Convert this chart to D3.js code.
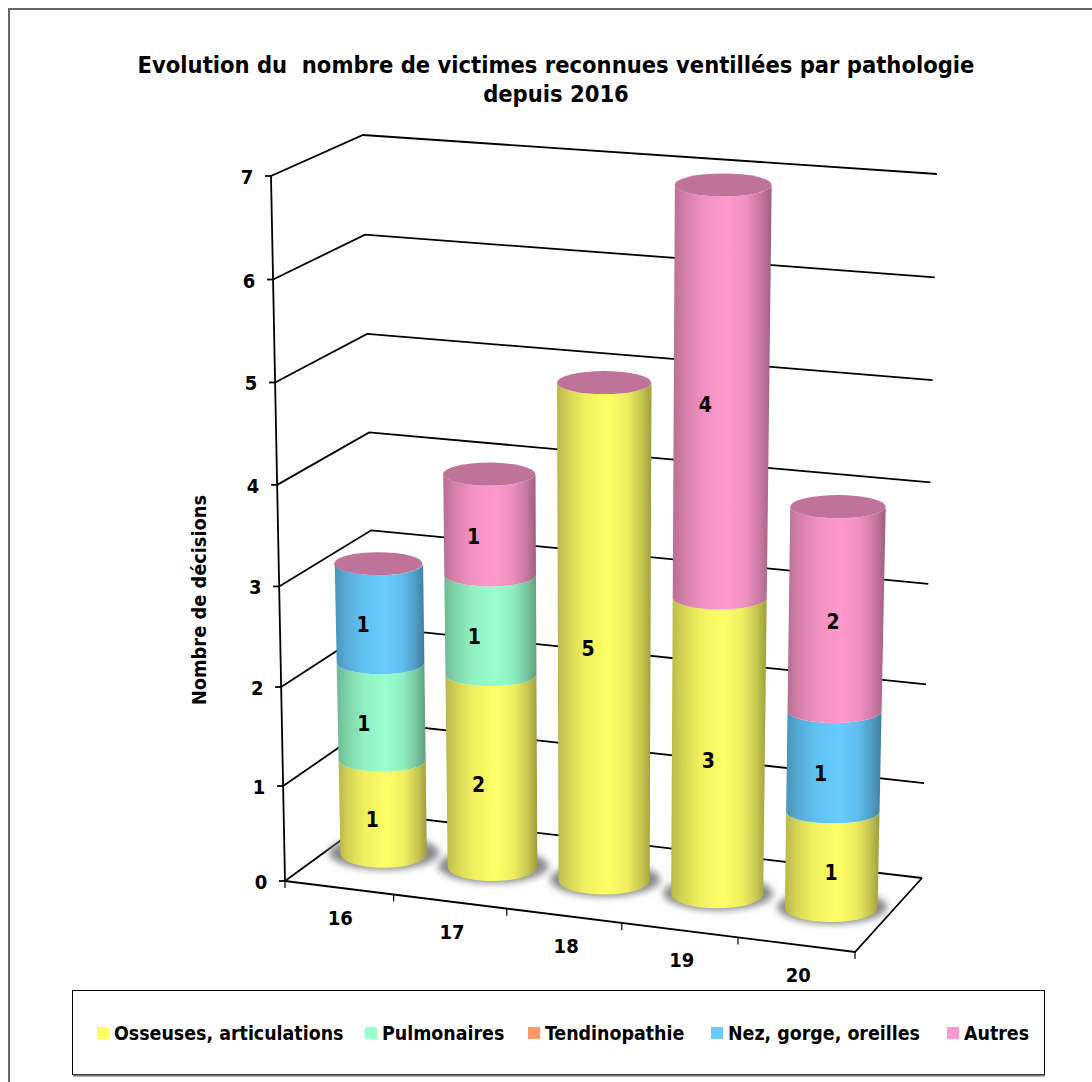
<!DOCTYPE html>
<html>
<head>
<meta charset="utf-8">
<script src="https://cdn.jsdelivr.net/npm/d3@7"></script>
<style>
  html, body { margin: 0; padding: 0; background: #fff; }
  svg { display: block; }
  text { font-family: "DejaVu Sans Condensed", "DejaVu Sans", sans-serif; font-weight: bold; fill: #000; }
</style>
</head>
<body>
<div id="chart"></div>
<script>
// data
var categories = ["16", "17", "18", "19", "20"];
var seriesNames = ["Osseuses, articulations", "Pulmonaires", "Tendinopathie", "Nez, gorge, oreilles", "Autres"];
var osseuses = [1, 2, 5, 3, 1];
var pulmonaires = [1, 1, 0, 0, 0];
var tendinopathie = [0, 0, 0, 0, 0];
var nez = [1, 0, 0, 0, 1];
var autres = [0, 1, 0, 4, 2];
var valueTicks = [0, 1, 2, 3, 4, 5, 6, 7];
var titleLines = ["Evolution du  nombre de victimes reconnues ventillées par pathologie", "depuis 2016"];
var yTitle = "Nombre de décisions";

var colors = ["#FFFF66", "#99FFCC", "#FF9966", "#66CCFF", "#FF99CC"];
var capColor = "#BF7399";

var width = 1092, height = 1082;

var svg = d3.select("#chart").append("svg")
  .attr("width", width)
  .attr("height", height);

var defs = svg.append("defs");

// corners of the 3D box, [x, y] on screen
var floorFL = [285, 881], floorFR = [855, 952], floorBL = [377, 814], floorBR = [922, 878];
var topFL = [271, 176], topFR = [870, 222], topBL = [363, 135], topBR = [937, 174];

// scales: category -> position along the box, value -> height in the box
// the small exponents stand in for the perspective of the original
var xBand = d3.scaleBand().domain(categories).range([0, 1]);
var xPow = d3.scalePow().exponent(1.03).domain([0, 1]).range([0, 1]);
var yPow = d3.scalePow().exponent(1.03).domain([0, 7]).range([0, 1]);

function mix(a, b, t) {
  return [a[0] + (b[0] - a[0]) * t, a[1] + (b[1] - a[1]) * t];
}

// u: left to right (0-1), w: front to back (0-1), v: value
function project(u, w, v) {
  var t = yPow(v), s = xPow(u);
  var floorPt = mix(mix(floorFL, floorFR, s), mix(floorBL, floorBR, s), w);
  var topPt = mix(mix(topFL, topFR, s), mix(topBL, topBR, s), w);
  return mix(floorPt, topPt, t);
}

var line = d3.line();

// frame, open on the right and at the bottom
svg.append("path")
  .attr("d", "M9,1082V9H1092")
  .attr("fill", "none")
  .attr("stroke", "#666")
  .attr("stroke-width", 2);

// title
svg.append("g").selectAll("text")
  .data(titleLines)
  .enter()
  .append("text")
    .attr("x", 556)
    .attr("y", function(d, i) { return 73 + i * 29; })
    .attr("text-anchor", "middle")
    .style("font-size", "23.5px")
    .style("white-space", "pre")
    .attr("xml:space", "preserve")
    .text(function(d) { return d; });

// walls and gridlines
var wall = svg.append("g").attr("fill", "none").attr("stroke", "#000").attr("stroke-width", 1.8);

wall.selectAll("path.grid")
  .data(valueTicks)
  .enter()
  .append("path")
    .attr("class", "grid")
    .attr("d", function(v) {
      return line([project(0, 0, v), project(0, 1, v), project(1, 1, v)]);
    });

wall.append("path").attr("d", line([project(0, 0, 0), project(0, 0, 7)]));
wall.append("path").attr("d", line([project(0, 0, 0), project(1, 0, 0), project(1, 1, 0)]));

// y ticks
wall.selectAll("path.ytick")
  .data(valueTicks)
  .enter()
  .append("path")
    .attr("class", "ytick")
    .attr("d", function(v) {
      var p = project(0, 0, v);
      return line([[p[0] - 6, p[1]], p]);
    });

// x ticks, one at each band edge
wall.selectAll("path.xtick")
  .data(d3.range(0, 6))
  .enter()
  .append("path")
    .attr("class", "xtick")
    .attr("stroke-width", 1.2)
    .attr("d", function(i) {
      var p = project(i / 5, 0, 0);
      return line([p, [p[0], p[1] + 7]]);
    });

// y labels
svg.append("g").selectAll("text")
  .data(valueTicks)
  .enter()
  .append("text")
    .attr("x", function(v) { return project(0, 0, v)[0] - 24; })
    .attr("y", function(v) { return project(0, 0, v)[1] + 8; })
    .attr("text-anchor", "middle")
    .style("font-size", "20px")
    .text(function(v) { return v; });

// x labels
svg.append("g").selectAll("text")
  .data(categories)
  .enter()
  .append("text")
    .attr("x", function(c) { return project(xBand(c) + xBand.bandwidth() / 2, 0, 0)[0] + 2; })
    .attr("y", function(c) { return project(xBand(c) + xBand.bandwidth() / 2, 0, 0)[1] + 37; })
    .attr("text-anchor", "middle")
    .style("font-size", "20px")
    .text(function(c) { return c; });

// y title
svg.append("text")
  .attr("transform", "translate(206,600)rotate(-90)")
  .attr("text-anchor", "middle")
  .style("font-size", "19.8px")
  .text(yTitle);

// shading of the cylinders
colors.forEach(function(c, i) {
  var g = defs.append("linearGradient").attr("id", "cyl" + i);
  [[0, 0.72], [0.12, 0.83], [0.3, 0.94], [0.55, 1], [0.75, 0.93], [0.9, 0.77], [1, 0.62]].forEach(function(s) {
    var base = d3.rgb(c);
    var col = d3.rgb(base.r * s[1], base.g * s[1], base.b * s[1]);
    g.append("stop").attr("offset", s[0]).attr("stop-color", col);
  });
});

defs.append("filter")
  .attr("id", "blur")
  .attr("x", "-30%").attr("y", "-50%").attr("width", "160%").attr("height", "200%")
  .append("feGaussianBlur").attr("stdDeviation", 3.5);

// stack the series
var table = categories.map(function(c, i) {
  return { cat: c, s0: osseuses[i], s1: pulmonaires[i], s2: tendinopathie[i], s3: nez[i], s4: autres[i] };
});
var stack = d3.stack().keys(["s0", "s1", "s2", "s3", "s4"])(table);

var barShare = 0.81;  // width of a cylinder in its band
var depthMid = 0.5;

// left, right and middle of a cylinder at height v, kept level
function edges(c, v) {
  var u = xBand(c) + xBand.bandwidth() / 2;
  var half = xBand.bandwidth() * barShare / 2;
  var m = project(u, depthMid, v);
  return {
    l: [project(u - half, depthMid, v)[0], m[1]],
    r: [project(u + half, depthMid, v)[0], m[1]],
    m: m
  };
}

function ry(v) { return v === 0 ? 14 : 11.5; }

function segmentPath(c, v0, v1) {
  var a = edges(c, v0), b = edges(c, v1);
  var rxA = (a.r[0] - a.l[0]) / 2, rxB = (b.r[0] - b.l[0]) / 2;
  return "M" + b.l + "L" + a.l +
    "A" + rxA + "," + ry(v0) + " 0 0 0 " + a.r +
    "L" + b.r +
    "A" + rxB + "," + ry(v1) + " 0 0 1 " + b.l + "Z";
}

var bars = svg.append("g");

// shadows on the floor
bars.selectAll("ellipse.shadow")
  .data(categories)
  .enter()
  .append("ellipse")
    .attr("class", "shadow")
    .attr("cx", function(c) { return edges(c, 0).m[0] + 1; })
    .attr("cy", function(c) { return edges(c, 0).m[1] - 1; })
    .attr("rx", 55)
    .attr("ry", 17)
    .attr("fill", "#8a8a8a")
    .attr("filter", "url(#blur)");

categories.forEach(function(c, ci) {
  var g = bars.append("g");
  var topV = 0;
  stack.forEach(function(layer, si) {
    var d = layer[ci];
    if (d[1] === d[0]) return;
    topV = d[1];
    g.append("path")
      .attr("d", segmentPath(c, d[0], d[1]))
      .attr("fill", "url(#cyl" + si + ")");
  });
  var e = edges(c, topV);
  g.append("ellipse")
    .attr("cx", e.m[0])
    .attr("cy", e.m[1])
    .attr("rx", (e.r[0] - e.l[0]) / 2)
    .attr("ry", ry(topV))
    .attr("fill", capColor);
});

// value labels, nudged left of centre like in the original
var labelNudge = {
  "16": [-10, -17, -16],
  "17": [-13, -16, -16],
  "18": [-16],
  "19": [-10, -16],
  "20": [-1, -13, -3]
};

var labels = svg.append("g");
categories.forEach(function(c, ci) {
  var n = 0;
  stack.forEach(function(layer) {
    var d = layer[ci];
    if (d[1] === d[0]) return;
    var m = edges(c, (d[0] + d[1]) / 2).m;
    labels.append("text")
      .attr("x", m[0] + labelNudge[c][n])
      .attr("y", m[1] + 19)
      .attr("text-anchor", "middle")
      .style("font-size", "21px")
      .text(d[1] - d[0]);
    n++;
  });
});

// legend
var legendX = [97, 365, 528, 711, 947];
var legend = svg.append("g");
legend.append("rect")
  .attr("x", 72.5).attr("y", 990.5)
  .attr("width", 972).attr("height", 84)
  .attr("fill", "#fff")
  .attr("stroke", "#000");
legend.append("path")
  .attr("d", "M73,1075.5H1045")
  .attr("stroke", "#777")
  .attr("stroke-width", 2);

var item = legend.selectAll("g.item")
  .data(seriesNames)
  .enter()
  .append("g")
    .attr("class", "item")
    .attr("transform", function(d, i) { return "translate(" + legendX[i] + ",1033)"; });

item.append("rect")
  .attr("y", -6)
  .attr("width", 12)
  .attr("height", 12)
  .attr("fill", function(d, i) { return colors[i]; });

item.append("text")
  .attr("x", 17)
  .attr("y", 7)
  .style("font-size", "19.4px")
  .text(function(d) { return d; });
</script>
</body>
</html>
